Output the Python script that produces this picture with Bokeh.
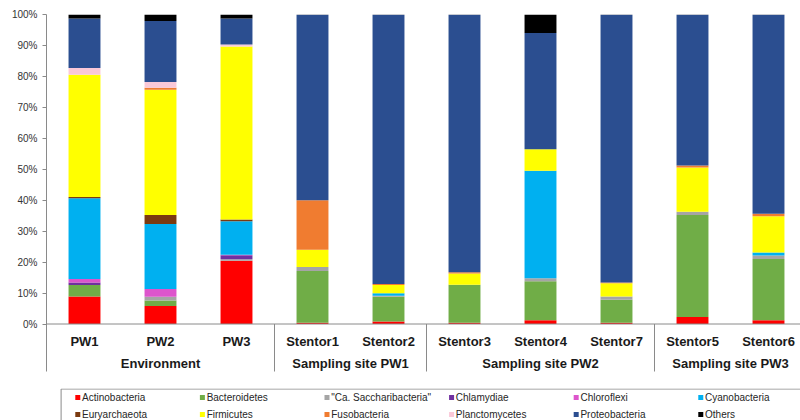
from bokeh.plotting import figure
from bokeh.layouts import column
from bokeh.models import ColumnDataSource, Range1d, FixedTicker, Span, PrintfTickFormatter
from bokeh.core.properties import value
from bokeh.embed import file_html
from bokeh.resources import INLINE

# ---------------- data ----------------
samples = ["PW1", "PW2", "PW3", "Stentor1", "Stentor2", "Stentor3",
           "Stentor4", "Stentor7", "Stentor5", "Stentor6"]
groups = ["Environment", "Sampling site PW1", "Sampling site PW2", "Sampling site PW3"]
group_sizes = [3, 2, 3, 2]

taxa = ["Actinobacteria", "Bacteroidetes", '"Ca. Saccharibacteria"', "Chlamydiae",
        "Chloroflexi", "Cyanobacteria", "Euryarchaeota", "Firmicutes",
        "Fusobacteria", "Planctomycetes", "Proteobacteria", "Others"]
colors = ["#FF0000", "#70AD47", "#A5A5A5", "#7030A0", "#DD55CC", "#00B0F0",
          "#7B3A10", "#FFFF00", "#F07C30", "#FAC8D8", "#2B4E90", "#000000"]

actinobacteria   = [8.9, 5.8, 20.4, 0.4, 0.8, 0.4, 1.2, 0.4, 2.3, 1.2]
bacteroidetes    = [3.7, 1.8, 0.0, 16.7, 8.0, 12.3, 12.6, 7.4, 32.9, 19.8]
saccharibacteria = [0.0, 1.2, 0.5, 1.3, 0.3, 0.0, 1.0, 1.1, 1.1, 1.1]
chlamydiae       = [0.8, 0.0, 1.3, 0.0, 0.0, 0.0, 0.0, 0.0, 0.0, 0.0]
chloroflexi      = [1.1, 2.5, 0.2, 0.0, 0.0, 0.0, 0.0, 0.0, 0.0, 0.0]
cyanobacteria    = [26.1, 21.0, 10.8, 0.0, 0.8, 0.0, 34.7, 0.0, 0.0, 1.0]
euryarchaeota    = [0.4, 2.9, 0.6, 0.0, 0.0, 0.0, 0.0, 0.0, 0.0, 0.0]
firmicutes       = [39.5, 40.5, 55.9, 5.6, 2.7, 3.6, 7.0, 4.3, 14.3, 11.7]
fusobacteria     = [0.0, 0.6, 0.0, 16.0, 0.3, 0.4, 0.0, 0.2, 0.6, 0.8]
planctomycetes   = [2.2, 1.9, 0.6, 0.0, 0.0, 0.0, 0.0, 0.0, 0.0, 0.0]
proteobacteria   = [16.0, 19.7, 8.4, 59.9, 87.0, 83.2, 37.5, 86.5, 48.7, 64.3]
others           = [1.3, 2.1, 1.3, 0.1, 0.1, 0.1, 6.0, 0.1, 0.1, 0.1]

series = [actinobacteria, bacteroidetes, saccharibacteria, chlamydiae, chloroflexi,
          cyanobacteria, euryarchaeota, firmicutes, fusobacteria, planctomycetes,
          proteobacteria, others]
y_ticks = [0, 10, 20, 30, 40, 50, 60, 70, 80, 90, 100]

# ---------------- layout constants ----------------
FONT = "Liberation Sans"
AXIS_GRAY = "#8A8A8A"
PX_PER_UNIT = 309.5 / 100.0          # vertical scale
CAT_PX = 76.0                         # horizontal pixels per sample
W, H_MAIN, H_LEG = 800, 388, 32
LEFT, TOP = 46, 14
frame_w = W - LEFT
frame_h = H_MAIN - TOP
y_top = 100.0
y_bottom = y_top - frame_h / PX_PER_UNIT
sep_bottom = -(47.5 / PX_PER_UNIT)    # lower end of separators
cat_label_y = -(17.5 / PX_PER_UNIT)
grp_label_y = -(39.5 / PX_PER_UNIT)

xs = [i + 0.5 for i in range(len(samples))]
data = {"x": xs}
keys = []
for k, s in enumerate(series):
    key = "s%d" % k
    keys.append(key)
    data[key] = s
source = ColumnDataSource(data)

p = figure(width=W, height=H_MAIN, output_backend="svg", toolbar_location=None,
           x_axis_type=None, min_border_left=LEFT, min_border_right=0,
           min_border_top=TOP, min_border_bottom=0,
           x_range=Range1d(0, frame_w / CAT_PX), y_range=Range1d(y_bottom, y_top))
p.outline_line_color = None
p.xgrid.visible = False
p.ygrid.visible = False
p.background_fill_color = None
p.border_fill_color = None

p.vbar_stack(keys, x="x", width=0.42, source=source, fill_color=colors, line_color=None)

ax = p.yaxis[0]
ax.ticker = FixedTicker(ticks=y_ticks)
ax.formatter = PrintfTickFormatter(format="%d%%")
ax.bounds = (sep_bottom, 100)
ax.axis_line_color = AXIS_GRAY
ax.major_tick_line_color = AXIS_GRAY
ax.major_tick_out = 4
ax.major_tick_in = 0
ax.minor_tick_line_color = None
ax.major_label_standoff = 5
ax.major_label_text_font = FONT
ax.major_label_text_font_size = "10px"
ax.major_label_text_color = "#333333"

# baseline
p.add_layout(Span(location=0, dimension="width", line_color=AXIS_GRAY, line_width=1))

# group separators
bounds = []
acc = 0
for n in group_sizes:
    acc += n
    bounds.append(acc)
sep_x = bounds[:-1]
p.segment(x0=sep_x, y0=[0] * len(sep_x), x1=sep_x, y1=[sep_bottom] * len(sep_x),
          line_color=AXIS_GRAY, line_width=1)

# category labels
p.text(x=xs, y=[cat_label_y] * len(xs), text=samples, text_font=value(FONT),
       text_font_style="bold", text_font_size="13px", text_align="center",
       text_baseline="middle", text_color="#1A1A1A")

# group labels
starts = [0] + bounds[:-1]
gx = [(a + b) / 2.0 for a, b in zip(starts, bounds)]
p.text(x=gx, y=[grp_label_y] * len(gx), text=groups, text_font=value(FONT),
       text_font_style="bold", text_font_size="13px", text_align="center",
       text_baseline="middle", text_color="#1A1A1A")

# ---------------- legend strip ----------------
q = figure(width=W, height=H_LEG, output_backend="svg", toolbar_location=None,
           x_axis_type=None, y_axis_type=None,
           min_border_left=0, min_border_right=0, min_border_top=0, min_border_bottom=0,
           x_range=Range1d(0, W), y_range=Range1d(H_LEG, 0))
q.outline_line_color = None
q.xgrid.visible = False
q.ygrid.visible = False
q.background_fill_color = None
q.border_fill_color = None

q.quad(left=[15.5], right=[W + 10], top=[0.5], bottom=[H_LEG + 10],
       fill_color=None, line_color=AXIS_GRAY, line_width=1)

ncols = 6
col_step = 132.2
mx, my, tx = [], [], []
for i, name in enumerate(taxa):
    r, c = divmod(i, ncols)
    mx.append(33.2 + c * col_step)
    tx.append(37.7 + c * col_step)
    my.append(9 + r * 17)
q.scatter(x=mx, y=my, marker="square", size=5, fill_color=colors, line_color=None)
q.text(x=tx, y=my, text=taxa, text_font=value(FONT), text_font_size="10px",
       text_baseline="middle", text_align="left", text_color="#262626")

layout = column(p, q, spacing=0)
open("out.html", "w").write(file_html(layout, INLINE))
